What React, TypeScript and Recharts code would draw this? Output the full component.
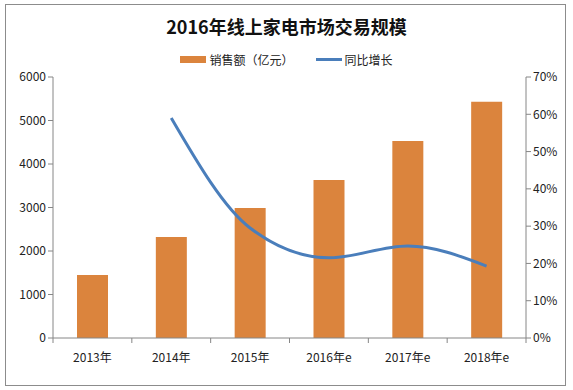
import React from "react";
import { ComposedChart, Bar, Line, XAxis, YAxis } from "recharts";

const years = ["2013年", "2014年", "2015年", "2016年e", "2017年e", "2018年e"];
const sales = [1450, 2320, 2990, 3630, 4530, 5430];
const growth = [null, 0.59, 0.295, 0.215, 0.247, 0.193];
const leftTicks = [0, 1000, 2000, 3000, 4000, 5000, 6000];
const rightTicks = [0, 0.1, 0.2, 0.3, 0.4, 0.5, 0.6, 0.7];

const data = years.map((y, i) => ({ year: y, sales: sales[i], growth: growth[i] }));

const BAR = "#DB843D";
const LINE = "#4A7EBB";
const AXIS = "#868686";
const FONT = "'Noto Sans CJK SC', 'DejaVu Sans', sans-serif";
const BAND = (526 - 53) / years.length;

function XTick({ x, y, payload, index }: any) {
  const last = index === years.length - 1;
  return (
    <g>
      <line x1={x - BAND / 2} y1={y - 8} x2={x - BAND / 2} y2={y - 3} stroke={AXIS} />
      {last && <line x1={x + BAND / 2} y1={y - 8} x2={x + BAND / 2} y2={y - 3} stroke={AXIS} />}
      <text x={x} y={y + 16} textAnchor="middle" fontSize={12} fill="#222" fontFamily={FONT}>
        {payload.value}
      </text>
    </g>
  );
}

export default function App() {
  return (
    <div style={{ position: "fixed", left: 0, top: 0, width: 573, height: 390, background: "#fff" }}>
      <div
        style={{
          position: "absolute", left: 5, top: 4, width: 561, height: 382,
          border: "1px solid #8c8c8c", boxSizing: "border-box",
        }}
      />
      <div
        style={{
          position: "absolute", top: 13, left: 0, width: 573, textAlign: "center",
          fontFamily: FONT, fontWeight: 700, fontSize: 18, color: "#111",
        }}
      >
        2016年线上家电市场交易规模
      </div>
      <div
        style={{
          position: "absolute", top: 51, left: 0, width: 573, display: "flex",
          justifyContent: "center", alignItems: "center", fontFamily: FONT, fontSize: 12, color: "#222",
        }}
      >
        <span style={{ display: "inline-block", width: 26, height: 7, background: BAR, marginRight: 3 }} />
        <span style={{ marginRight: 22 }}>销售额（亿元）</span>
        <span style={{ display: "inline-block", width: 26, height: 3, background: LINE, marginRight: 3 }} />
        <span>同比增长</span>
      </div>
      <div style={{ position: "absolute", left: 0, top: 0 }}>
        <ComposedChart
          width={573}
          height={390}
          data={data}
          margin={{ top: 77, right: 0, bottom: 22, left: 5 }}
          barSize={31}
        >
          <XAxis
            dataKey="year"
            stroke={AXIS}
            tickLine={false}
            tick={<XTick />}
            height={30}
            interval={0}
          />
          <YAxis
            yAxisId="left"
            domain={[0, 6000]}
            ticks={leftTicks}
            stroke={AXIS}
            tickSize={5}
            width={48}
            tick={{ fontSize: 12, fill: "#222", fontFamily: FONT }}
          />
          <YAxis
            yAxisId="right"
            orientation="right"
            domain={[0, 0.7]}
            ticks={rightTicks}
            stroke={AXIS}
            tickSize={5}
            width={47}
            tickFormatter={(v) => `${Math.round(v * 100)}%`}
            tick={{ fontSize: 12, fill: "#222", fontFamily: FONT }}
          />
          <Bar yAxisId="left" dataKey="sales" fill={BAR} isAnimationActive={false} />
          <Line
            yAxisId="right"
            type="monotone"
            dataKey="growth"
            stroke={LINE}
            strokeWidth={3}
            dot={false}
            isAnimationActive={false}
          />
        </ComposedChart>
      </div>
    </div>
  );
}
